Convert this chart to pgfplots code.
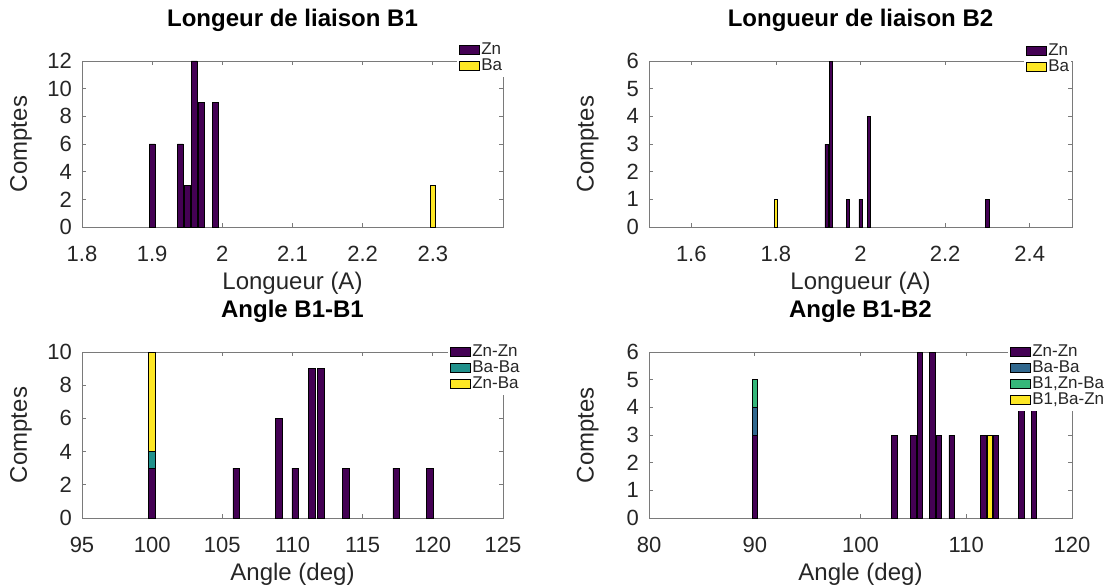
\documentclass[border=0pt]{standalone}
\usepackage{fontspec}
\setmainfont{Liberation Sans}
\usepackage{pgfplots}
\pgfplotsset{compat=1.18}

\definecolor{vPurple}{HTML}{440154}
\definecolor{vBlue}{HTML}{31688E}
\definecolor{vTeal}{HTML}{21918C}
\definecolor{vGreen}{HTML}{35B779}
\definecolor{vYellow}{HTML}{FDE725}
\definecolor{axgray}{HTML}{7A7A7A}
\definecolor{txt}{HTML}{262626}

\pgfplotsset{
  panel/.style={
    scale only axis, height=166pt,
    ybar stacked, bar shift=0pt,
    ymin=0,
    axis line style={draw=axgray, line width=0.9pt},
    tick style={draw=axgray, line width=0.8pt},
    tick align=inside, major tick length=4pt, tick pos=both,
    /pgf/number format/assume math mode=true,
    tick label style={font=\fontsize{22}{22}\selectfont, text=txt, inner sep=0pt},
    xticklabel style={anchor=base, yshift=-34pt},
    yticklabel style={anchor=east, xshift=-10pt},
    label style={font=\fontsize{24}{24}\selectfont, text=txt},
    xlabel style={at={(axis description cs:0.5,-0.3735)}, anchor=base},
    ylabel style={at={(axis description cs:-0.145,0.5)}, anchor=center},
    title style={font=\bfseries\fontsize{24}{24}\selectfont, text=black,
                 at={(axis description cs:0.5,1.169)}, anchor=base},
    legend cell align=left,
    legend style={draw=none, fill=white, inner xsep=2pt, inner ysep=3pt,
      font=\fontsize{17}{17}\selectfont, text=txt,
      at={(axis description cs:1,1)}, anchor=north west,
      nodes={inner sep=0pt, text height=12.5pt, text depth=3.5pt},
      row sep=0pt,
      /tikz/every odd column/.append style={column sep=1.5pt}},
  },
  bar/.style={fill=#1, draw=black, line width=0.6pt,
    legend image code/.code={\draw[fill=#1, draw=black, line width=0.6pt]
      (0pt,-4.5pt) rectangle (20pt,4.5pt);}},
}

\begin{document}
\begin{tikzpicture}
\path[use as bounding box] (0,0) rectangle (1105pt,587pt);

% Bond lengths, site B1
\begin{axis}[panel, at={(82pt,360pt)}, anchor=south west, width=421pt,
  xmin=1.8, xmax=2.4, ymax=12, bar width=0.008,
  xtick={1.8,1.9,2,2.1,2.2,2.3}, ytick={0,2,4,6,8,10,12},
  title={Longeur de liaison B1}, xlabel={Longueur (A)}, ylabel={Comptes},
  legend style={xshift=-46pt, yshift=22pt}]
\addplot[bar=vPurple] coordinates {(1.90,6) (1.94,6) (1.95,3) (1.96,12) (1.97,9) (1.99,9) (2.30,0)};
\addplot[bar=vYellow] coordinates {(1.90,0) (1.94,0) (1.95,0) (1.96,0) (1.97,0) (1.99,0) (2.30,3)};
\legend{Zn,Ba}
\end{axis}

% Bond lengths, site B2
\begin{axis}[panel, at={(649pt,360pt)}, anchor=south west, width=423pt,
  xmin=1.5, xmax=2.5, ymax=6, bar width=0.008,
  xtick={1.6,1.8,2,2.2,2.4}, ytick={0,1,2,3,4,5,6},
  title={Longueur de liaison B2}, xlabel={Longueur (A)}, ylabel={Comptes},
  legend style={xshift=-48pt, yshift=21pt}]
\addplot[bar=vPurple] coordinates {(1.80,0) (1.92,3) (1.93,6) (1.97,1) (2.00,1) (2.02,4) (2.30,1)};
\addplot[bar=vYellow] coordinates {(1.80,1) (1.92,0) (1.93,0) (1.97,0) (2.00,0) (2.02,0) (2.30,0)};
\legend{Zn,Ba}
\end{axis}

% Angles B1-B1
\begin{axis}[panel, at={(82pt,69pt)}, anchor=south west, width=421pt,
  xmin=95, xmax=125, ymax=10, bar width=0.48,
  xtick={95,100,105,110,115,120,125}, ytick={0,2,4,6,8,10},
  title={Angle B1-B1}, xlabel={Angle (deg)}, ylabel={Comptes},
  legend style={xshift=-55pt, yshift=11pt}]
\addplot[bar=vPurple] coordinates {(100,3) (106,3) (109,6) (110.2,3) (111.4,9) (112,9) (113.8,3) (117.4,3) (119.8,3)};
\addplot[bar=vTeal] coordinates {(100,1) (106,0) (109,0) (110.2,0) (111.4,0) (112,0) (113.8,0) (117.4,0) (119.8,0)};
\addplot[bar=vYellow] coordinates {(100,6) (106,0) (109,0) (110.2,0) (111.4,0) (112,0) (113.8,0) (117.4,0) (119.8,0)};
\legend{Zn-Zn,Ba-Ba,Zn-Ba}
\end{axis}

% Angles B1-B2
\begin{axis}[panel, at={(649pt,69pt)}, anchor=south west, width=423pt,
  xmin=80, xmax=120, ymax=6, bar width=0.5,
  xtick={80,90,100,110,120}, ytick={0,1,2,3,4,5,6},
  title={Angle B1-B2}, xlabel={Angle (deg)}, ylabel={Comptes},
  legend style={xshift=-64pt, yshift=11pt}]
\addplot[bar=vPurple] coordinates {(90,3) (103.2,3) (105,3) (105.6,6) (106.8,6) (107.4,3) (108.6,3) (111.6,3) (112.2,0) (112.8,3) (115.2,4) (116.4,4)};
\addplot[bar=vBlue] coordinates {(90,1) (103.2,0) (105,0) (105.6,0) (106.8,0) (107.4,0) (108.6,0) (111.6,0) (112.2,0) (112.8,0) (115.2,0) (116.4,0)};
\addplot[bar=vGreen] coordinates {(90,1) (103.2,0) (105,0) (105.6,0) (106.8,0) (107.4,0) (108.6,0) (111.6,0) (112.2,0) (112.8,0) (115.2,0) (116.4,0)};
\addplot[bar=vYellow] coordinates {(90,0) (103.2,0) (105,0) (105.6,0) (106.8,0) (107.4,0) (108.6,0) (111.6,0) (112.2,3) (112.8,0) (115.2,0) (116.4,0)};
\legend{Zn-Zn,Ba-Ba,{B1,Zn-Ba},{B1,Ba-Zn}}
\end{axis}
\end{tikzpicture}
\end{document}
